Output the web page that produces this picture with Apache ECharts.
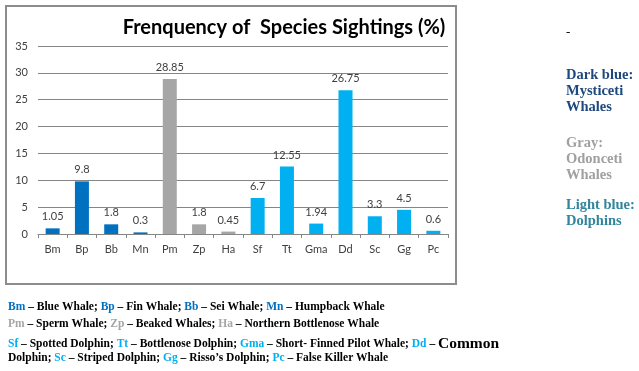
<!DOCTYPE html>
<html><head><meta charset="utf-8">
<script src="https://cdn.jsdelivr.net/npm/echarts@6/dist/echarts.min.js"></script>
<style>html,body{margin:0;padding:0;background:#fff}#c{width:639px;height:371px}</style>
</head><body><div id="c"></div>
<script>
const categories = ['Bm','Bp','Bb','Mn','Pm','Zp','Ha','Sf','Tt','Gma','Dd','Sc','Gg','Pc'];
const values = [1.05,9.8,1.8,0.3,28.85,1.8,0.45,6.7,12.55,1.94,26.75,3.3,4.5,0.6];
const groups = ['m','m','m','m','o','o','o','d','d','d','d','d','d','d'];
const groupColors = {m:'#0070c0', o:'#a6a6a6', d:'#00b0f0'};
const yTicks = {min:0, max:35, interval:5};
const titleText = 'Frenquency of  Species Sightings (%)';

const chart = echarts.init(document.getElementById('c'));
const serif = '"Liberation Serif", "DejaVu Serif", serif';
const fs = 11.5;
function st(c, size){ return {fill:c, fontFamily:serif, fontSize:size||fs, fontWeight:'bold'}; }
const rich = {
  k: st('#0070c0'),
  g: st('#a6a6a6'),
  l: st('#00b0f0'),
  t: st('#000'),
  big: st('#000', 15.5)
};
function line(y, txt){
  return {type:'text', left:8, top:y, style:{text:txt, rich:rich, fill:'#000'}};
}
chart.setOption({
  animation:false,
  title:{text:titleText, left:279, textAlign:'center', top:13,
    textStyle:{fontFamily:'Lato, "Open Sans", sans-serif', fontWeight:'bold', fontSize:20, color:'#000'}},
  grid:{left:38, right:191, top:46, bottom:137},
  xAxis:{type:'category', data:categories,
    axisLine:{lineStyle:{color:'#868686'}},
    axisTick:{show:true, length:4, lineStyle:{color:'#868686'}},
    axisLabel:{color:'#404040', fontSize:11, fontFamily:'Lato, sans-serif', margin:10}},
  yAxis:{type:'value', min:yTicks.min, max:yTicks.max, interval:yTicks.interval,
    axisLine:{show:false}, axisTick:{show:false},
    splitLine:{lineStyle:{color:'#868686'}},
    axisLabel:{color:'#404040', fontSize:11, fontFamily:'Lato, sans-serif', margin:10}},
  series:[{type:'bar', barWidth:14,
    data:values.map((v,i)=>({value:v, itemStyle:{color:groupColors[groups[i]]}})),
    label:{show:true, position:'top', distance:6, color:'#404040', fontSize:11, fontFamily:'Lato, sans-serif'}}],
  graphic:[
    {type:'rect', shape:{x:6, y:6, width:450, height:278}, style:{fill:null, stroke:'#8c8c8c', lineWidth:2}, z:-1},
    {type:'text', left:566, top:26, style:{text:'-', fill:'#000', font:'13px '+serif}},
    {type:'text', left:566, top:67, style:{text:'Dark blue:\nMysticeti\nWhales', fill:'#1f497d', font:'bold 14.5px '+serif, lineHeight:16}},
    {type:'text', left:566, top:135, style:{text:'Gray:\nOdonceti\nWhales', fill:'#a0a0a0', font:'bold 14.5px '+serif, lineHeight:16}},
    {type:'text', left:566, top:197, style:{text:'Light blue:\nDolphins', fill:'#31859c', font:'bold 14.5px '+serif, lineHeight:16}},
    line(301, '{k|Bm}{t| – Blue Whale; }{k|Bp}{t| – Fin Whale; }{k|Bb}{t| – Sei Whale; }{k|Mn}{t| – Humpback Whale}'),
    line(318, '{g|Pm}{t| – Sperm Whale; }{g|Zp}{t| – Beaked Whales; }{g|Ha}{t| – Northern Bottlenose Whale}'),
    line(336, '{l|Sf}{t| – Spotted Dolphin; }{l|Tt}{t| – Bottlenose Dolphin; }{l|Gma}{t| – Short- Finned Pilot Whale; }{l|Dd}{t| – }{big|Common}'),
    line(352, '{t|Dolphin; }{l|Sc}{t| – Striped Dolphin; }{l|Gg}{t| – Risso\u2019s Dolphin; }{l|Pc}{t| – False Killer Whale}')
  ]
});
</script></body></html>
